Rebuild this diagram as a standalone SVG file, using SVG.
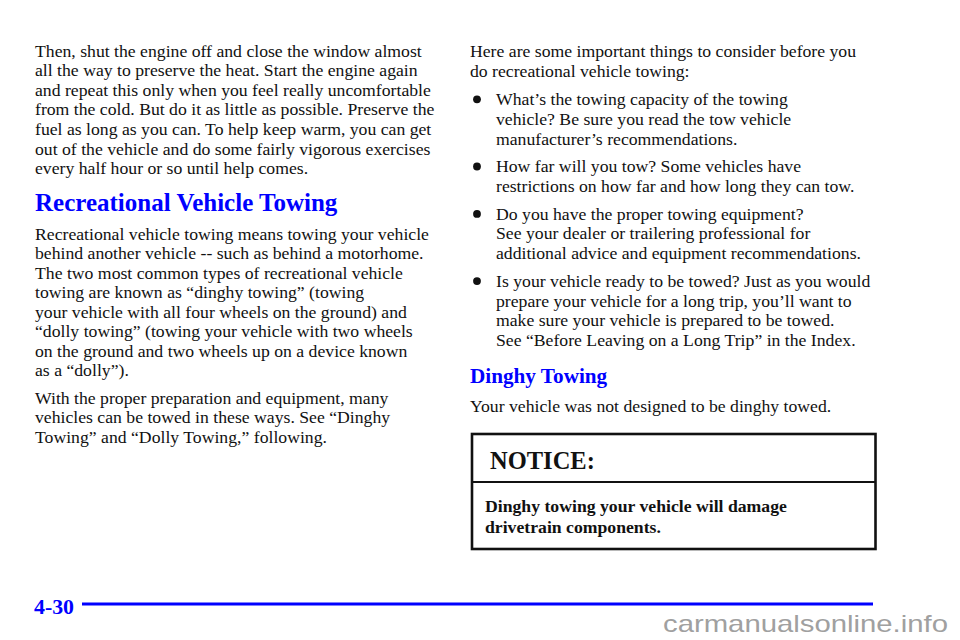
<svg xmlns="http://www.w3.org/2000/svg" width="960" height="640" viewBox="0 0 960 640">
<style>
.b{font-family:"Liberation Serif","Times New Roman",serif;font-size:17.7px;fill:#111111}
.h1{font-family:"Liberation Serif","Times New Roman",serif;font-size:25px;font-weight:bold;fill:#0000ff}
.h2{font-family:"Liberation Serif","Times New Roman",serif;font-size:21.2px;font-weight:bold;fill:#0000ff}
.nb{font-family:"Liberation Serif","Times New Roman",serif;font-size:17.7px;font-weight:bold;fill:#111111}
.nt{font-family:"Liberation Serif","Times New Roman",serif;font-size:24.5px;font-weight:bold;fill:#111111}
.pg{font-family:"Liberation Serif","Times New Roman",serif;font-size:22px;font-weight:bold;fill:#0000ff}
.wm{font-family:"Liberation Sans",Arial,sans-serif;font-size:24px;fill:#a0a0a0}
</style>
<rect width="960" height="640" fill="#ffffff"/>
<g id="left-column">
<text class="b" x="35" y="56.5">Then, shut the engine off and close the window almost</text>
<text class="b" x="35" y="76.1">all the way to preserve the heat. Start the engine again</text>
<text class="b" x="35" y="95.7">and repeat this only when you feel really uncomfortable</text>
<text class="b" x="35" y="115.3">from the cold. But do it as little as possible. Preserve the</text>
<text class="b" x="35" y="134.9">fuel as long as you can. To help keep warm, you can get</text>
<text class="b" x="35" y="154.5">out of the vehicle and do some fairly vigorous exercises</text>
<text class="b" x="35" y="174.1">every half hour or so until help comes.</text>
<text class="h1" x="35" y="210.5">Recreational Vehicle Towing</text>
<text class="b" x="35" y="239.5">Recreational vehicle towing means towing your vehicle</text>
<text class="b" x="35" y="259">behind another vehicle -- such as behind a motorhome.</text>
<text class="b" x="35" y="278.5">The two most common types of recreational vehicle</text>
<text class="b" x="35" y="298">towing are known as “dinghy towing” (towing</text>
<text class="b" x="35" y="317.5">your vehicle with all four wheels on the ground) and</text>
<text class="b" x="35" y="337">“dolly towing” (towing your vehicle with two wheels</text>
<text class="b" x="35" y="356.5">on the ground and two wheels up on a device known</text>
<text class="b" x="35" y="376">as a “dolly”).</text>
<text class="b" x="35" y="403.8">With the proper preparation and equipment, many</text>
<text class="b" x="35" y="423.3">vehicles can be towed in these ways. See “Dinghy</text>
<text class="b" x="35" y="442.8">Towing” and “Dolly Towing,” following.</text>
</g>
<g id="right-column">
<text class="b" x="470" y="57">Here are some important things to consider before you</text>
<text class="b" x="470" y="76.8">do recreational vehicle towing:</text>
<g id="bullets" fill="#111111">
<circle cx="477" cy="99.3" r="3.9"/>
<circle cx="477" cy="166.5" r="3.9"/>
<circle cx="477" cy="213.9" r="3.9"/>
<circle cx="477" cy="281.1" r="3.9"/>
</g>
<text class="b" x="496" y="105">What’s the towing capacity of the towing</text>
<text class="b" x="496" y="124.8">vehicle? Be sure you read the tow vehicle</text>
<text class="b" x="496" y="144.6">manufacturer’s recommendations.</text>
<text class="b" x="496" y="172.2">How far will you tow? Some vehicles have</text>
<text class="b" x="496" y="192">restrictions on how far and how long they can tow.</text>
<text class="b" x="496" y="219.6">Do you have the proper towing equipment?</text>
<text class="b" x="496" y="239.4">See your dealer or trailering professional for</text>
<text class="b" x="496" y="259.2">additional advice and equipment recommendations.</text>
<text class="b" x="496" y="286.8">Is your vehicle ready to be towed? Just as you would</text>
<text class="b" x="496" y="306.6">prepare your vehicle for a long trip, you’ll want to</text>
<text class="b" x="496" y="326.4">make sure your vehicle is prepared to be towed.</text>
<text class="b" x="496" y="346.2">See “Before Leaving on a Long Trip” in the Index.</text>
<text class="h2" x="470" y="383">Dinghy Towing</text>
<text class="b" x="470" y="412">Your vehicle was not designed to be dinghy towed.</text>
</g>
<g id="notice">
<rect x="472" y="434" width="403.5" height="115" fill="none" stroke="#111111" stroke-width="2.6"/>
<line x1="472" y1="482" x2="875.5" y2="482" stroke="#111111" stroke-width="2"/>
<text class="nt" x="490" y="469">NOTICE:</text>
<text class="nb" x="485" y="512">Dinghy towing your vehicle will damage</text>
<text class="nb" x="485" y="533">drivetrain components.</text>
</g>
<g id="footer">
<text class="pg" x="34" y="614" textLength="40" lengthAdjust="spacingAndGlyphs">4-30</text>
<line x1="82" y1="604" x2="873" y2="604" stroke="#0000ff" stroke-width="3"/>
<text class="wm" x="663" y="632" textLength="285" lengthAdjust="spacingAndGlyphs">carmanualsonline.info</text>
</g>
</svg>
